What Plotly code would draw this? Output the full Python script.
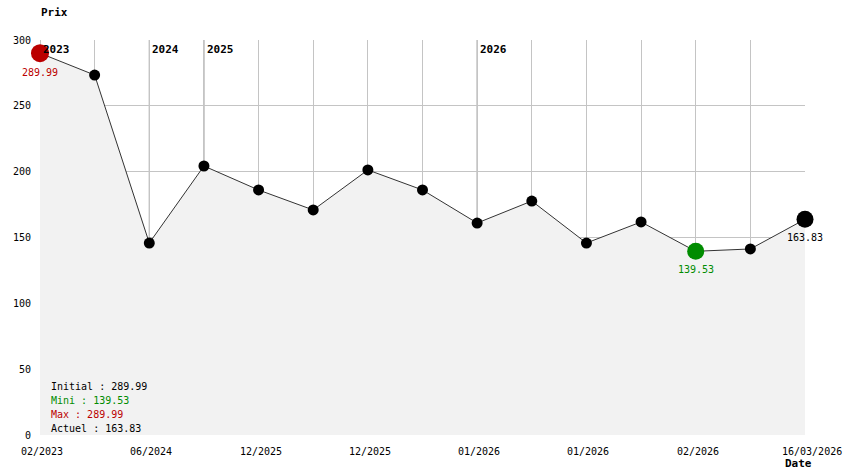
import plotly.graph_objects as go

# Data
idx = list(range(15))
prices = [289.99, 273.4, 145.8, 204.3, 186.1, 170.9, 201.3, 186.1, 161.0, 177.7, 145.8, 161.8, 139.53, 141.3, 163.83]
tick_idx = [0, 2, 4, 6, 8, 10, 12, 14]
tick_labels = ["02/2023", "06/2024", "12/2025", "12/2025", "01/2026", "01/2026", "02/2026", "16/03/2026"]
year_idx = [0, 2, 3, 8]
year_labels = ["2023", "2024", "2025", "2026"]
y_ticks = [0, 50, 100, 150, 200, 250, 300]

initial = prices[0]
mini = min(prices)
maxi = max(prices)
actuel = prices[-1]
i_min = prices.index(mini)
i_max = prices.index(maxi)

FONT = "DejaVu Sans Mono"
RED = "#bb0000"
GREEN = "#008c00"
GRID = "#c4c4c4"

W, H = 844, 474
L, R, T, B = 40, 39, 40, 39
pw, ph = W - L - R, H - T - B

fig = go.Figure()

fig.add_trace(go.Scatter(
    x=idx, y=prices, mode="lines+markers",
    line=dict(color="#333333", width=1),
    marker=dict(color="black", size=11),
    fill="tozeroy", fillcolor="#f2f2f2",
    cliponaxis=False, hoverinfo="x+y", showlegend=False))

fig.add_trace(go.Scatter(x=[i_max], y=[maxi], mode="markers",
                         marker=dict(color=RED, size=18), cliponaxis=False, showlegend=False))
fig.add_trace(go.Scatter(x=[i_min], y=[mini], mode="markers",
                         marker=dict(color=GREEN, size=17), cliponaxis=False, showlegend=False))
fig.add_trace(go.Scatter(x=[idx[-1]], y=[actuel], mode="markers",
                         marker=dict(color="black", size=17), cliponaxis=False, showlegend=False))

# year lines and labels
for xi, lab in zip(year_idx, year_labels):
    fig.add_shape(type="line", x0=xi, x1=xi, y0=0, y1=300, xref="x", yref="y",
                  line=dict(color="#8c8c8c", width=1), layer="below")
    fig.add_annotation(x=xi, y=300, text="<b>" + lab + "</b>", showarrow=False,
                       xanchor="left", yanchor="top", xshift=1, yshift=-1,
                       font=dict(family=FONT, size=11, color="black"))

# x tick labels
for k, (xi, lab) in enumerate(zip(tick_idx, tick_labels)):
    last = k == len(tick_idx) - 1
    fig.add_annotation(x=xi, y=0, xref="x", yref="y", text=lab, showarrow=False,
                       xanchor="right" if last else "center", yanchor="middle",
                       xshift=39 if last else 2, yshift=-16,
                       font=dict(family=FONT, size=10, color="black"))

# value labels
fig.add_annotation(x=i_max, y=maxi, text=f"{maxi:.2f}", showarrow=False,
                   xanchor="center", yanchor="top", yshift=-12,
                   font=dict(family=FONT, size=10, color=RED))
fig.add_annotation(x=i_min, y=mini, text=f"{mini:.2f}", showarrow=False,
                   xanchor="center", yanchor="top", yshift=-11,
                   font=dict(family=FONT, size=10, color=GREEN))
fig.add_annotation(x=idx[-1], y=actuel, text=f"{actuel:.2f}", showarrow=False,
                   xanchor="center", yanchor="top", yshift=-11,
                   font=dict(family=FONT, size=10, color="black"))

# stats box
stats = [(f"Initial : {initial:.2f}", "black"), (f"Mini : {mini:.2f}", GREEN),
         (f"Max : {maxi:.2f}", RED), (f"Actuel : {actuel:.2f}", "black")]
for k, (txt, col) in enumerate(stats):
    fig.add_annotation(x=(49 - L) / pw, y=(H - 386 - 14 * k - B) / ph, xref="paper", yref="paper",
                       text=txt, showarrow=False, xanchor="left", yanchor="middle",
                       font=dict(family=FONT, size=10, color=col))

# axis titles
fig.add_annotation(x=(39 - L) / pw, y=(H - 12 - B) / ph, xref="paper", yref="paper", text="<b>Prix</b>",
                   showarrow=False, xanchor="left", yanchor="middle",
                   font=dict(family=FONT, size=11, color="black"))
fig.add_annotation(x=(783 - L) / pw, y=(H - 463 - B) / ph, xref="paper", yref="paper", text="<b>Date</b>",
                   showarrow=False, xanchor="left", yanchor="middle",
                   font=dict(family=FONT, size=11, color="black"))

fig.update_layout(
    width=W, height=H,
    margin=dict(l=L, r=R, t=T, b=B, autoexpand=False),
    plot_bgcolor="white", paper_bgcolor="white",
    font=dict(family=FONT, size=10, color="black"),
    showlegend=False,
    xaxis=dict(range=[0, 14], tickvals=idx, showticklabels=False,
               showgrid=True, gridcolor=GRID, gridwidth=1,
               zeroline=False, showline=False, ticks="", automargin=False),
    yaxis=dict(range=[0, 300], tickvals=y_ticks, showgrid=True, gridcolor=GRID,
               zeroline=False, showline=False, ticks="", ticklabelstandoff=8,
               automargin=False),
)

fig.write_html("out.html", config={"displayModeBar": False},
               post_script="document.body.style.margin='0';")
